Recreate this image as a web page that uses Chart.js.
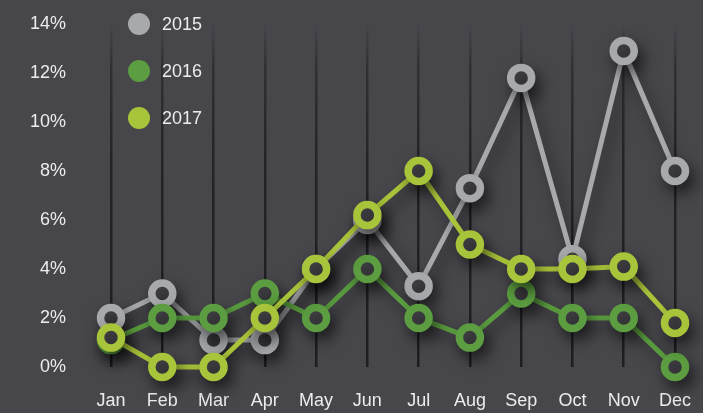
<!DOCTYPE html>
<html>
<head>
<meta charset="utf-8">
<script src="https://cdn.jsdelivr.net/npm/chart.js@4.4.1/dist/chart.umd.min.js"></script>
<style>
  html, body { margin: 0; padding: 0; background: #47464b; }
  #wrap { width: 703px; height: 413px; position: relative; }
</style>
</head>
<body>
<div id="wrap"><canvas id="c" width="703" height="413"></canvas></div>
<script>
const months = ["Jan","Feb","Mar","Apr","May","Jun","Jul","Aug","Sep","Oct","Nov","Dec"];
const yTicks = [0, 2, 4, 6, 8, 10, 12, 14];
const seriesLabels = ["2015", "2016", "2017"];
const values2015 = [2.0, 3.0, 1.1, 1.1, 4.0, 6.0, 3.3, 7.3, 11.8, 4.4, 12.9, 8.0];
const values2016 = [1.1, 2.0, 2.0, 3.0, 2.0, 4.0, 2.0, 1.2, 3.0, 2.0, 2.0, 0.0];
const values2017 = [1.2, 0.0, 0.0, 2.0, 4.0, 6.2, 8.0, 5.0, 4.0, 4.0, 4.1, 1.8];
const colors = ["#a7a9ac", "#5b9d40", "#a8c43a"];
const BG = "#47464b";
const FONT = "'Liberation Sans', Arial, sans-serif";
const TEXT = "#ececec";

function ds(label, data, color, order) {
  return {
    label, data, order,
    borderColor: color,
    backgroundColor: color,
    borderWidth: 5,
    pointRadius: 10.5,
    pointHoverRadius: 10.5,
    pointBorderWidth: 7.5,
    pointBackgroundColor: BG,
    pointBorderColor: color,
    tension: 0,
    clip: false
  };
}

const shadowPlugin = {
  id: 'shadow',
  beforeDatasetDraw(chart) {
    const ctx = chart.ctx;
    ctx.save();
    ctx.shadowColor = 'rgba(0,0,0,0.5)';
    ctx.shadowBlur = 16;
    ctx.shadowOffsetX = 5;
    ctx.shadowOffsetY = 8;
  },
  afterDatasetDraw(chart) {
    chart.ctx.restore();
  }
};

const legendPlugin = {
  id: 'customLegend',
  afterDraw(chart) {
    const ctx = chart.ctx;
    ctx.save();
    chart.data.datasets.forEach((d, i) => {
      const cy = 24 + i * 47;
      ctx.beginPath();
      ctx.arc(139, cy, 11, 0, Math.PI * 2);
      ctx.fillStyle = d.borderColor;
      ctx.fill();
      ctx.fillStyle = TEXT;
      ctx.font = "18px " + FONT;
      ctx.textBaseline = 'middle';
      ctx.textAlign = 'left';
      ctx.fillText(d.label, 162, cy + 1);
    });
    ctx.restore();
  }
};

new Chart(document.getElementById('c'), {
  type: 'line',
  data: {
    labels: months,
    datasets: [
      ds(seriesLabels[0], values2015, colors[0], 3),
      ds(seriesLabels[1], values2016, colors[1], 2),
      ds(seriesLabels[2], values2017, colors[2], 1)
    ]
  },
  options: {
    responsive: false,
    animation: false,
    events: [],
    layout: { autoPadding: false, padding: { left: 0, right: 28, top: 24, bottom: 0 } },
    plugins: { legend: { display: false }, tooltip: { enabled: false } },
    scales: {
      x: {
        offset: false,
        border: { display: false },
        grid: {
          drawTicks: true,
          tickLength: 20,
          tickColor: 'rgba(0,0,0,0)',
          lineWidth: 2.5,
          color: (c) => {
            const ch = c.chart;
            const area = ch.chartArea;
            if (!area) return '#2a292d';
            const g = ch.ctx.createLinearGradient(0, area.top, 0, area.bottom);
            g.addColorStop(0, 'rgba(40,39,43,0)');
            g.addColorStop(0.12, 'rgba(40,39,43,0.7)');
            g.addColorStop(0.4, 'rgba(36,35,39,1)');
            g.addColorStop(1, 'rgba(30,29,33,1)');
            return g;
          }
        },
        ticks: {
          color: TEXT,
          font: { family: FONT, size: 18 },
          padding: 3,
          maxRotation: 0,
          autoSkip: false
        },
        afterFit: (s) => { s.height = 46; }
      },
      y: {
        min: 0, max: 14,
        border: { display: false },
        grid: {
          display: true,
          drawOnChartArea: false,
          drawTicks: true,
          tickLength: 41,
          tickColor: 'rgba(0,0,0,0)',
          color: 'rgba(0,0,0,0)'
        },
        afterBuildTicks: (s) => { s.ticks = yTicks.map(v => ({ value: v })); },
        ticks: {
          color: TEXT,
          font: { family: FONT, size: 18 },
          padding: 4,
          callback: (v) => v + '%'
        },
        afterFit: (s) => { s.width = 111; }
      }
    }
  },
  plugins: [shadowPlugin, legendPlugin]
});
</script>
</body>
</html>
